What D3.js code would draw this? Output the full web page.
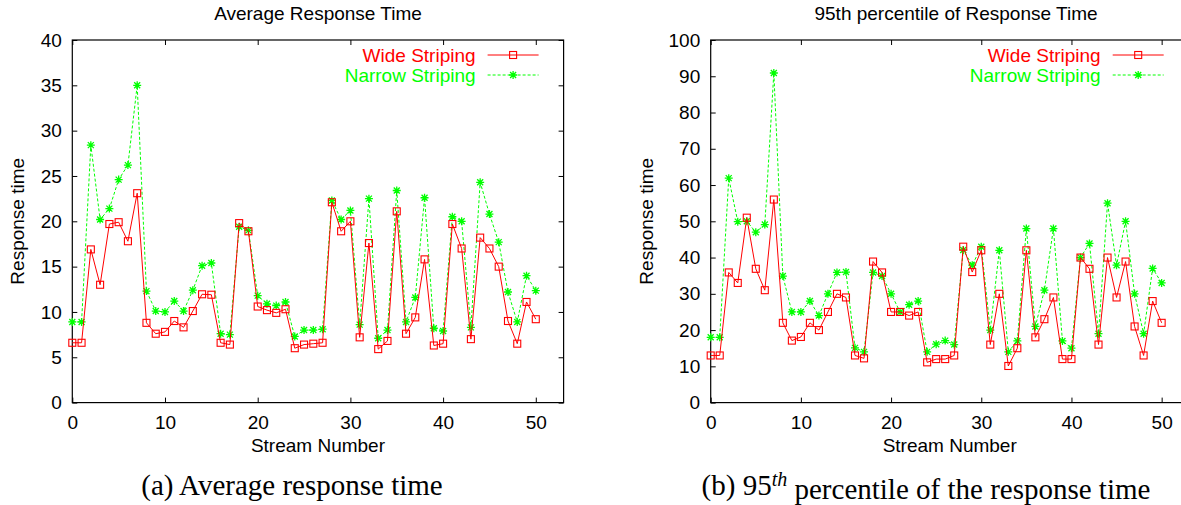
<!DOCTYPE html>
<html>
<head>
<meta charset="utf-8">
<script src="https://cdn.jsdelivr.net/npm/d3@7"></script>
<style>
  body { margin: 0; background: #fff; }
  svg { display: block; }
  text { font-family: "Liberation Sans", Arial, sans-serif; }
  .axis path, .axis line { stroke: #000; }
  .axis text { font-size: 19px; fill: #000; }
  .caption { font-family: "Liberation Serif", "Times New Roman", serif; font-size: 29px; }
</style>
</head>
<body>
<div id="chart"></div>
<script>
// stream numbers 0..50
var streams = d3.range(0, 51);

// (a) average response time
var avgWide = [6.6, 6.6, 16.9, 13.0, 19.7, 19.9, 17.8, 23.1, 8.8, 7.6,
  7.8, 9.0, 8.3, 10.1, 11.95, 11.9, 6.6, 6.4, 19.8, 18.9,
  10.6, 10.2, 9.9, 10.3, 6.0, 6.4, 6.5, 6.6, 22.1, 18.9,
  20.0, 7.2, 17.6, 5.9, 6.8, 21.1, 7.6, 9.4, 15.8, 6.3,
  6.5, 19.7, 17.0, 7.0, 18.2, 17.0, 15.0, 9.0, 6.5, 11.1, 9.2];
var avgNarrow = [8.9, 8.9, 28.4, 20.2, 21.4, 24.6, 26.2, 35.0, 12.3, 10.1,
  10.0, 11.2, 10.1, 12.4, 15.1, 15.4, 7.6, 7.5, 19.4, 19.0,
  11.8, 10.9, 10.7, 11.1, 7.3, 8.0, 8.0, 8.1, 22.3, 20.2,
  21.2, 8.6, 22.5, 7.1, 8.0, 23.4, 8.9, 11.6, 22.6, 8.2,
  7.9, 20.5, 20.0, 8.3, 24.3, 20.8, 17.7, 12.2, 8.9, 14.0, 12.35];

// (b) 95th percentile of response time
var p95Wide = [13, 13, 35.9, 33, 51, 36.9, 31, 56, 22, 17.1,
  18.1, 22, 20, 25, 30, 29, 13, 12.2, 38.9, 35.9,
  25, 25, 24, 25, 11.1, 12, 12, 13, 43, 36,
  42, 16, 30, 10.1, 15, 42, 18, 23, 29, 12,
  12, 40, 36.9, 16, 40, 29, 38.9, 21, 13, 28, 22];
var p95Narrow = [18, 18, 61.9, 49.9, 50, 47, 49.1, 90.9, 34.9, 25,
  25, 28, 24, 30, 35.9, 36, 15.1, 14, 35.9, 34.9,
  30, 25, 27, 28, 14, 16.1, 17.1, 16, 42.1, 37.9,
  43, 20, 42, 14, 17, 48, 21, 31, 48, 17,
  15, 40, 43.9, 19, 55, 37.9, 50, 30, 19, 37, 33];

var xTicks = [0, 10, 20, 30, 40, 50];
var avgTicks = d3.range(0, 41, 5);
var p95Ticks = d3.range(0, 101, 10);
var seriesNames = ["Wide Striping", "Narrow Striping"];

var W = 1181, H = 505;
var svg = d3.select("#chart").append("svg")
    .attr("width", W)
    .attr("height", H);

var panels = [
  {left: 72.3, width: 491.3, title: "Average Response Time", titleX: 318,
   ymax: 40, yticks: avgTicks, wide: avgWide, narrow: avgNarrow, ylabX: 17.5},
  {left: 710.7, width: 478, title: "95th percentile of Response Time", titleX: 956,
   ymax: 100, yticks: p95Ticks, wide: p95Wide, narrow: p95Narrow, ylabX: 646}
];

var plotTop = 40, plotBottom = 402.6;

function starPath(s) {
  return "M" + (-s) + ",0H" + s + "M0," + (-s) + "V" + s +
    "M" + (-s * 0.75) + "," + (-s * 0.75) + "L" + (s * 0.75) + "," + (s * 0.75) +
    "M" + (-s * 0.75) + "," + (s * 0.75) + "L" + (s * 0.75) + "," + (-s * 0.75);
}

panels.forEach(function (p) {
  var x = d3.scaleLinear().domain([0, 53]).range([p.left, p.left + p.width]);
  var y = d3.scaleLinear().domain([0, p.ymax]).range([plotBottom, plotTop]);

  var g = svg.append("g");

  // frame
  g.append("rect")
      .attr("x", p.left).attr("y", plotTop)
      .attr("width", p.width).attr("height", plotBottom - plotTop)
      .attr("fill", "none").attr("stroke", "#000").attr("stroke-width", 1.2);

  g.append("g")
      .attr("class", "axis")
      .attr("transform", "translate(0," + plotBottom + ")")
      .call(d3.axisBottom(x).tickValues(xTicks).tickSize(-5).tickPadding(13).tickSizeOuter(0))
      .call(function (a) { a.select(".domain").remove(); });

  g.append("g")
      .attr("class", "axis")
      .attr("transform", "translate(0," + plotTop + ")")
      .call(d3.axisTop(x).tickValues(xTicks).tickSize(-5).tickSizeOuter(0).tickFormat(""))
      .call(function (a) { a.select(".domain").remove(); });

  g.append("g")
      .attr("class", "axis")
      .attr("transform", "translate(" + p.left + ",0)")
      .call(d3.axisLeft(y).tickValues(p.yticks).tickSize(-5).tickPadding(10.5).tickSizeOuter(0))
      .call(function (a) { a.select(".domain").remove(); });

  g.append("g")
      .attr("class", "axis")
      .attr("transform", "translate(" + (p.left + p.width) + ",0)")
      .call(d3.axisRight(y).tickValues(p.yticks).tickSize(-5).tickSizeOuter(0).tickFormat(""))
      .call(function (a) { a.select(".domain").remove(); });

  // titles and labels
  g.append("text")
      .attr("x", p.titleX).attr("y", 20)
      .attr("text-anchor", "middle")
      .style("font-size", "19px")
      .text(p.title);

  g.append("text")
      .attr("transform", "translate(" + p.ylabX + "," + ((plotTop + plotBottom) / 2) + ") rotate(-90)")
      .attr("dy", "0.35em")
      .attr("text-anchor", "middle")
      .style("font-size", "19px")
      .text("Response time");

  g.append("text")
      .attr("x", x(26.5)).attr("y", 452)
      .attr("text-anchor", "middle")
      .style("font-size", "19px")
      .text("Stream Number");

  var line = d3.line()
      .x(function (d, i) { return x(streams[i]); })
      .y(function (d) { return y(d); });

  // narrow striping
  g.append("path")
      .datum(p.narrow)
      .attr("d", line)
      .attr("fill", "none")
      .attr("stroke", "#00ff00")
      .attr("stroke-width", 1)
      .attr("stroke-dasharray", "3,2");

  g.selectAll(".star")
      .data(p.narrow)
    .enter().append("path")
      .attr("class", "star")
      .attr("transform", function (d, i) { return "translate(" + x(streams[i]) + "," + y(d) + ")"; })
      .attr("d", starPath(4))
      .attr("stroke", "#00ff00")
      .attr("stroke-width", 1.3);

  // wide striping
  g.append("path")
      .datum(p.wide)
      .attr("d", line)
      .attr("fill", "none")
      .attr("stroke", "#ff0000")
      .attr("stroke-width", 1);

  g.selectAll(".sq")
      .data(p.wide)
    .enter().append("rect")
      .attr("class", "sq")
      .attr("x", function (d, i) { return x(streams[i]) - 3.5; })
      .attr("y", function (d) { return y(d) - 3.5; })
      .attr("width", 7).attr("height", 7)
      .attr("fill", "none")
      .attr("stroke", "#ff0000")
      .attr("stroke-width", 1.1);

  // legend
  var right = p.left + p.width;
  var leg = [
    {name: seriesNames[0], color: "#ff0000", dash: null, y: 55},
    {name: seriesNames[1], color: "#00ff00", dash: "3,2", y: 75}
  ];
  leg.forEach(function (l, k) {
    g.append("text")
        .attr("x", right - 88).attr("y", l.y)
        .attr("dy", "0.35em")
        .attr("text-anchor", "end")
        .attr("fill", l.color)
        .style("font-size", "19px")
        .text(l.name);
    g.append("line")
        .attr("x1", right - 76).attr("x2", right - 25)
        .attr("y1", l.y).attr("y2", l.y)
        .attr("stroke", l.color)
        .attr("stroke-dasharray", l.dash);
    var mx = right - 50.5;
    if (k === 0) {
      g.append("rect")
          .attr("x", mx - 3.5).attr("y", l.y - 3.5)
          .attr("width", 7).attr("height", 7)
          .attr("fill", "none").attr("stroke", l.color).attr("stroke-width", 1.1);
    } else {
      g.append("path")
          .attr("transform", "translate(" + mx + "," + l.y + ")")
          .attr("d", starPath(4))
          .attr("stroke", l.color).attr("stroke-width", 1.3);
    }
  });
});

// captions
svg.append("text")
    .attr("class", "caption")
    .attr("x", 292).attr("y", 495)
    .attr("text-anchor", "middle")
    .text("(a) Average response time");

var cap2 = svg.append("text")
    .attr("class", "caption")
    .attr("x", 926).attr("y", 495)
    .attr("text-anchor", "middle");
cap2.append("tspan").text("(b) 95");
cap2.append("tspan")
    .attr("dy", "-0.45em")
    .style("font-size", "20px")
    .style("font-style", "italic")
    .text("th");
cap2.append("tspan")
    .attr("dy", "0.45em")
    .text(" percentile of the response time");
</script>
</body>
</html>
